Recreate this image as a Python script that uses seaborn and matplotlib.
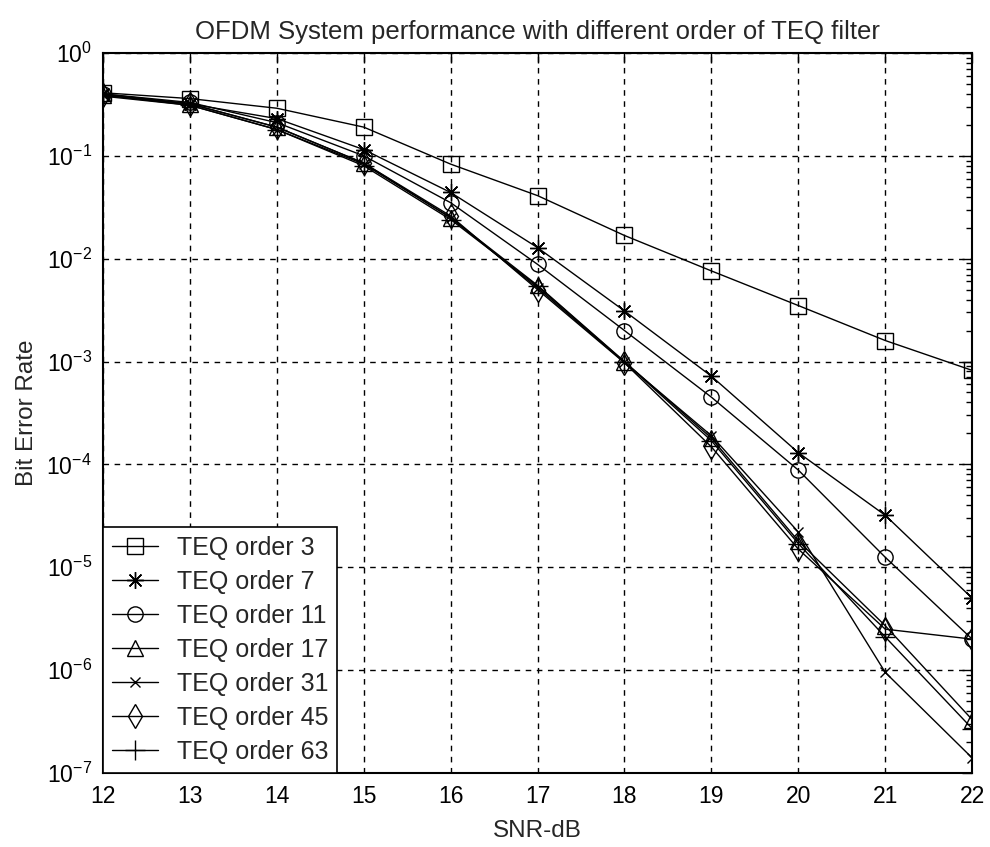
import numpy as np
import pandas as pd
import matplotlib
matplotlib.use("Agg")
import matplotlib.pyplot as plt
import matplotlib.ticker as mticker
import seaborn as sns

snr = [12, 13, 14, 15, 16, 17, 18, 19, 20, 21, 22]
labels = ["TEQ order 3", "TEQ order 7", "TEQ order 11", "TEQ order 17",
          "TEQ order 31", "TEQ order 45", "TEQ order 63"]
ber_3 = [0.41, 0.36, 0.29, 0.19, 0.083, 0.041, 0.0168, 0.0076, 0.0035, 0.0016, 0.00082]
ber_7 = [0.40, 0.32, 0.23, 0.115, 0.044, 0.0128, 0.0031, 0.00072, 0.00013, 3.2e-5, 5.0e-6]
ber_11 = [0.40, 0.33, 0.21, 0.10, 0.035, 0.0088, 0.0020, 0.00045, 8.8e-5, 1.25e-5, 2.0e-6]
ber_17 = [0.39, 0.32, 0.19, 0.085, 0.025, 0.0055, 0.00100, 0.00018, 1.8e-5, 2.7e-6, 3.3e-7]
ber_31 = [0.39, 0.31, 0.18, 0.083, 0.025, 0.0052, 0.00098, 0.00019, 2.2e-5, 9.5e-7, 1.4e-7]
ber_45 = [0.39, 0.32, 0.19, 0.085, 0.026, 0.0050, 0.00097, 0.000148, 1.5e-5, 2.5e-6, 2.0e-6]
ber_63 = [0.38, 0.31, 0.18, 0.080, 0.024, 0.0054, 0.00099, 0.00017, 1.7e-5, 2.1e-6, 2.7e-7]
series = [ber_3, ber_7, ber_11, ber_17, ber_31, ber_45, ber_63]

markers = ["s", (8, 2, 0), "o", "^", "x", "d", "+"]
msizes = [11, 12, 11, 12, 7, 12, 14]

sns.set_style("white")
plt.rcParams["font.family"] = ["Liberation Sans", "DejaVu Sans"]
plt.rcParams["mathtext.default"] = "regular"
plt.rcParams["axes.unicode_minus"] = False

fig = plt.figure(figsize=(9.9, 8.47), dpi=100)
ax = fig.add_axes([0.104, 0.0874, 0.878, 0.8501])

for lab, vals, m, ms in zip(labels, series, markers, msizes):
    df = pd.DataFrame({"SNR": snr, "BER": vals})
    sns.lineplot(data=df, x="SNR", y="BER", ax=ax, color="black", linewidth=1.0,
                 marker=m, markersize=ms, markerfacecolor="none",
                 markeredgecolor="black", markeredgewidth=1.0, label=lab)

ax.set_yscale("log")
ax.set_xlim(12, 22)
ax.set_ylim(1e-7, 1)
ax.set_xticks(snr)
ax.yaxis.set_major_locator(mticker.LogLocator(base=10, numticks=10))
ax.yaxis.set_minor_locator(mticker.LogLocator(base=10, subs=np.arange(2, 10), numticks=100))
ax.yaxis.set_minor_formatter(mticker.NullFormatter())

ax.grid(True, which="major", color="black", linestyle=(0, (4, 4)), linewidth=1.0)
ax.tick_params(which="both", direction="in", top=True, right=True, labelsize=16.5,
               colors="black")
ax.tick_params(which="major", length=7, width=1)
ax.tick_params(axis="x", which="major", pad=9)
ax.tick_params(axis="y", which="major", pad=8)
ax.tick_params(which="minor", length=4, width=1)
for s in ax.spines.values():
    s.set_color("black")
    s.set_linewidth(1.5)

ax.set_title("OFDM System performance with different order of TEQ filter",
             fontsize=18.5, pad=10)
ax.set_xlabel("SNR-dB", fontsize=17.5, labelpad=8)
ax.set_ylabel("Bit Error Rate", fontsize=17.5, labelpad=6)

leg = ax.legend(loc="lower left", borderaxespad=0, fancybox=False, framealpha=1,
                edgecolor="black", fontsize=18, handlelength=1.85,
                handletextpad=0.75, labelspacing=0.4, borderpad=0.35)
leg.get_frame().set_linewidth(1.2)

fig.savefig("out.png", dpi=100, facecolor="white")
